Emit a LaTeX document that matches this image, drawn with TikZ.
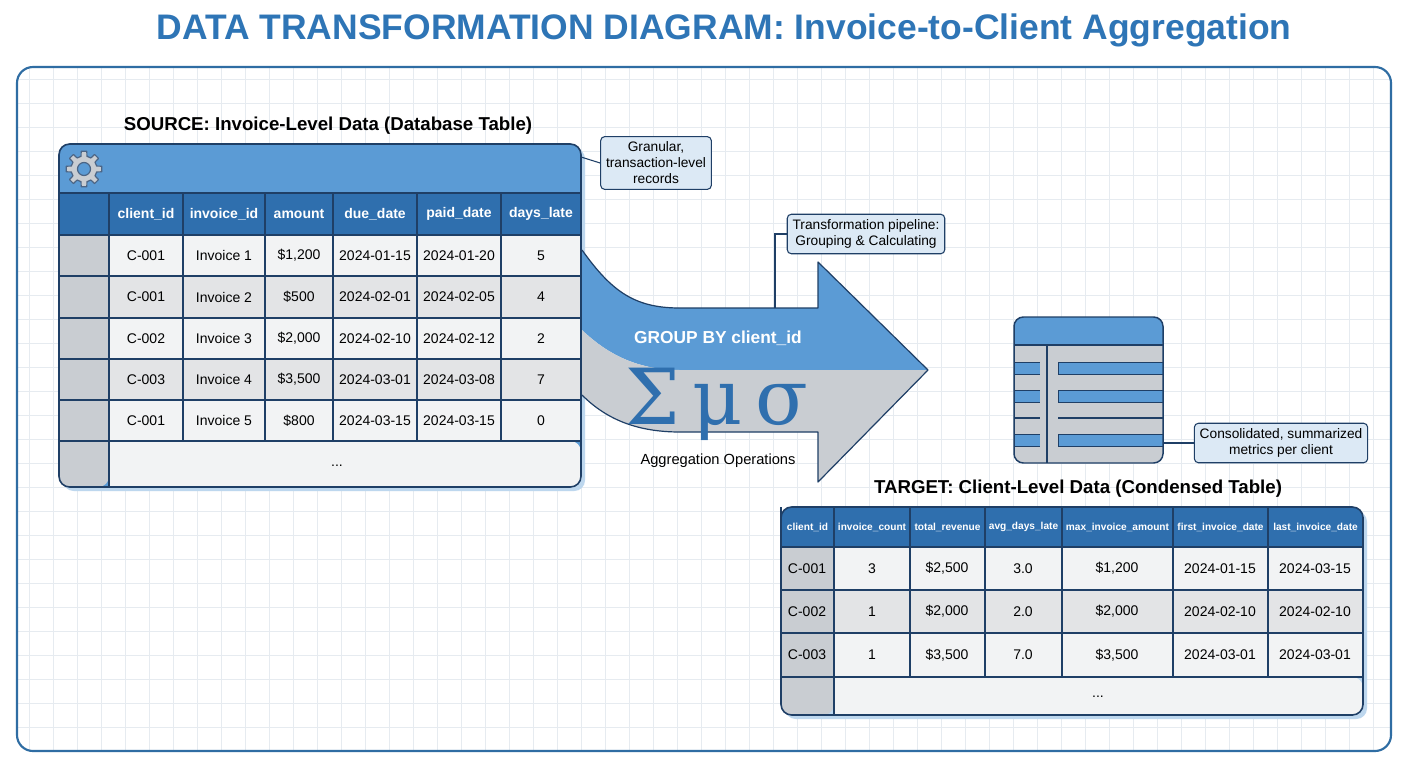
\documentclass[tikz,border=0pt]{standalone}
\usepackage{fontspec}
\setmainfont{Liberation Sans}
\newfontfamily\symfont{DejaVu Serif}
\definecolor{titleblue}{HTML}{2E75B6}
\definecolor{blueL}{HTML}{5B9BD5}
\definecolor{blueD}{HTML}{2F6FAE}
\definecolor{edge}{HTML}{1F3F66}
\definecolor{grayC}{HTML}{C9CDD2}
\definecolor{cellA}{HTML}{F2F3F4}
\definecolor{cellB}{HTML}{E3E4E6}
\definecolor{callfill}{HTML}{DCE9F5}
\definecolor{gridc}{HTML}{E6EBF0}
\definecolor{frame}{HTML}{2F6DA3}
\tikzset{
  cellfont/.style={font=\fontsize{10.5}{12}\selectfont},
  callout/.style={draw=edge,fill=callfill,rounded corners=3pt,line width=0.8pt,align=center,font=\fontsize{10.3}{12}\selectfont,inner sep=4pt},
  lead/.style={draw=edge,line width=0.8pt},
  ttl/.style={font=\bfseries\fontsize{14}{16}\selectfont},
}
\begin{document}
\begin{tikzpicture}[x=0.75pt,y=-0.75pt]
\useasboundingbox (0,0) rectangle (1408,768);
\fill[white] (0,0) rectangle (1408,768);
% title
\node[font=\bfseries\fontsize{26.6}{30}\selectfont,text=titleblue] (title) at (724,30) {DATA TRANSFORMATION DIAGRAM: Invoice-to-Client Aggregation};
% frame + grid
\begin{scope}
\clip[rounded corners=12pt] (17,67) rectangle (1391,751);
\foreach \x in {29,53,...,1391} \draw[gridc,line width=0.6pt] (\x,67) -- (\x,751);
\foreach \y in {79,103,...,751} \draw[gridc,line width=0.6pt] (17,\y) -- (1391,\y);
\end{scope}
\draw[frame,line width=1.6pt,rounded corners=12pt] (17,67) rectangle (1391,751);

% ---------- SOURCE ----------
\node[ttl] (srcttl) at (328,126) {SOURCE: Invoice-Level Data (Database Table)};
\fill[blueL!40,rounded corners=8pt] (63,148) rectangle (585,491);
\fill[blueL,rounded corners=8pt] (59,144) rectangle (581,487);
\fill[blueD] (59,193) rectangle (581,235);
\fill[grayC] (59,235) rectangle (109,479);
\fill[grayC,rounded corners=8pt] (59,441) rectangle (109,487);
\fill[cellA] (109,441) rectangle (573,487);
\fill[cellA,rounded corners=8pt] (109,441) rectangle (581,487);
% gear
\begin{scope}[shift={(84,169)}]
\draw[fill=grayC,draw=edge!80,line width=0.9pt,line join=round]
  (-13:13) \foreach \a in {0,45,...,315}{
    -- ({\a-9}:18) -- ({\a+9}:18) -- ({\a+13}:13) arc[start angle={\a+13},end angle={\a+32},radius=13]
  } -- cycle;
\fill[blueL] (0,0) circle (6.5);
\draw[edge!80,line width=0.9pt] (0,0) circle (6.5);
\end{scope}
% header row
\foreach \t/\xa/\xb [count=\i] in {client\_id/109/183,invoice\_id/183/265,amount/265/333,due\_date/333/417,paid\_date/417/501,days\_late/501/581}{
  \node[font=\bfseries\fontsize{10.5}{12}\selectfont,text=white] (sh\i) at ({(\xa+\xb)/2},214) {\t};
  \draw[edge,line width=0.9pt] (\xa,193) -- (\xa,235);
}
\foreach \ya/\yb/\c/\va/\vb/\vc/\vd/\ve/\vf [count=\r] in {
 {235/276/cellA/C-001/Invoice 1/{\$1,200}/2024-01-15/2024-01-20/5},
 {276/318/cellB/C-001/Invoice 2/{\$500}/2024-02-01/2024-02-05/4},
 {318/359/cellA/C-002/Invoice 3/{\$2,000}/2024-02-10/2024-02-12/2},
 {359/400/cellB/C-003/Invoice 4/{\$3,500}/2024-03-01/2024-03-08/7},
 {400/441/cellA/C-001/Invoice 5/{\$800}/2024-03-15/2024-03-15/0}}{
  \fill[\c] (109,\ya) rectangle (581,\yb);
  \draw[edge,line width=0.9pt] (59,\ya) -- (581,\ya);
  \foreach \x in {109,183,265,333,417,501} \draw[edge,line width=0.9pt] (\x,\ya) -- (\x,\yb);
  \node[cellfont] (s\r a) at (146,{(\ya+\yb)/2}) {\va};
  \node[cellfont] (s\r b) at (224,{(\ya+\yb)/2}) {\vb};
  \node[cellfont] (s\r c) at (299,{(\ya+\yb)/2}) {\vc};
  \node[cellfont] (s\r d) at (375,{(\ya+\yb)/2}) {\vd};
  \node[cellfont] (s\r e) at (459,{(\ya+\yb)/2}) {\ve};
  \node[cellfont] (s\r f) at (541,{(\ya+\yb)/2}) {\vf};
}
\draw[edge,line width=0.9pt] (59,441) -- (581,441) (59,193) -- (581,193) (109,441) -- (109,487);
\node[cellfont] (sdots) at (337,466) {...};
\draw[edge,line width=1.2pt,rounded corners=8pt] (59,144) rectangle (581,487);
\coordinate (srcR) at (581,157);
\node[callout] (c1) at (656,163) {Granular,\\transaction-level\\records};
\draw[lead] (srcR) -- (c1.west);

% ---------- ARROW ----------
\fill[blueL] (582,250) .. controls (612,292) and (635,308) .. (680,308) -- (818,308) -- (818,262) -- (928,370) -- (680,370) .. controls (635,370) and (605,352) .. (582,330) -- cycle;
\fill[grayC] (582,330) .. controls (605,352) and (635,370) .. (680,370) -- (928,370) -- (818,482) -- (818,432) -- (680,432) .. controls (635,432) and (605,418) .. (582,395) -- cycle;
\draw[edge,line width=0.9pt,line join=round] (582,250) .. controls (612,292) and (635,308) .. (680,308) -- (818,308) -- (818,262) -- (928,370) -- (818,482) -- (818,432) -- (680,432) .. controls (635,432) and (605,418) .. (582,395);
\node[font=\bfseries\fontsize{13}{15}\selectfont,text=white] (grp) at (718,338) {GROUP BY client\_id};
\node[font=\symfont\fontsize{58}{60}\selectfont,text=blueD] (sym) at (717,404) {Σ\,μ\,σ};
\node[font=\fontsize{11}{13}\selectfont] (agg) at (718,461) {Aggregation Operations};
\node[callout] (c2) at (866,234) {Transformation pipeline:\\Grouping \& Calculating};
\coordinate (arrTop) at (775,308);
\draw[lead] (arrTop) |- (c2.west);

% ---------- ICON ----------
\fill[grayC,rounded corners=7pt] (1014,317) rectangle (1163,463);
\fill[blueL,rounded corners=7pt] (1014,317) rectangle (1163,350);
\fill[grayC] (1014,345) rectangle (1163,360);
\draw[edge,line width=0.9pt] (1014,345) -- (1163,345) (1047,345) -- (1047,463);
\foreach \y in {368,396,440}{
  \fill[blueL] (1014,{\y-6}) rectangle (1040,{\y+6});
  \fill[blueL] (1058,{\y-6}) rectangle (1163,{\y+6});
  \draw[edge,line width=0.7pt] (1014,{\y-6}) -- (1040,{\y-6}) (1014,{\y+6}) -- (1040,{\y+6}) (1058,{\y-6}) -- (1163,{\y-6}) (1058,{\y+6}) -- (1163,{\y+6}) (1058,{\y-6}) -- (1058,{\y+6});
}
\draw[edge,line width=0.9pt] (1014,418) -- (1040,418) (1058,418) -- (1163,418);
\draw[edge,line width=1.1pt,rounded corners=7pt] (1014,317) rectangle (1163,463);
\coordinate (iconR) at (1163,443);
\node[callout] (c3) at (1281,443) {Consolidated, summarized\\metrics per client};
\draw[lead] (iconR) -- (c3.west);

% ---------- TARGET ----------
\node[ttl] (tgtttl) at (1078,489) {TARGET: Client-Level Data (Condensed Table)};
\fill[blueL!40,rounded corners=8pt] (785,511) rectangle (1367,719);
\fill[blueD,rounded corners=8pt] (781,507) rectangle (1363,547);
\fill[blueD] (781,530) rectangle (1363,547);
\fill[grayC] (781,547) rectangle (834,705);
\fill[grayC,rounded corners=8pt] (781,677) rectangle (834,715);
\fill[cellA] (834,677) rectangle (1355,715);
\fill[cellA,rounded corners=8pt] (834,677) rectangle (1363,715);
\foreach \t/\xa/\xb [count=\i] in {client\_id/781/834,invoice\_count/834/910,total\_revenue/910/985,avg\_days\_late/985/1062,max\_invoice\_amount/1062/1173,first\_invoice\_date/1173/1268,last\_invoice\_date/1268/1363}{
  \node[font=\bfseries\fontsize{7.6}{9}\selectfont,text=white] (th\i) at ({(\xa+\xb)/2},527) {\t};
  \draw[edge,line width=0.9pt] (\xa,507) -- (\xa,677);
}
\foreach \ya/\yb/\c/\va/\vb/\vc/\vd/\ve/\vf/\vg [count=\r] in {
 {547/590/cellA/C-001/3/{\$2,500}/3.0/{\$1,200}/2024-01-15/2024-03-15},
 {590/633/cellB/C-002/1/{\$2,000}/2.0/{\$2,000}/2024-02-10/2024-02-10},
 {633/677/cellA/C-003/1/{\$3,500}/7.0/{\$3,500}/2024-03-01/2024-03-01}}{
  \fill[\c] (834,\ya) rectangle (1363,\yb);
  \draw[edge,line width=0.9pt] (781,\ya) -- (1363,\ya);
  \foreach \x in {834,910,985,1062,1173,1268} \draw[edge,line width=0.9pt] (\x,\ya) -- (\x,\yb);
  \node[cellfont] (t\r a) at (807,{(\ya+\yb)/2}) {\va};
  \node[cellfont] (t\r b) at (872,{(\ya+\yb)/2}) {\vb};
  \node[cellfont] (t\r c) at (947,{(\ya+\yb)/2}) {\vc};
  \node[cellfont] (t\r d) at (1023,{(\ya+\yb)/2}) {\vd};
  \node[cellfont] (t\r e) at (1117,{(\ya+\yb)/2}) {\ve};
  \node[cellfont] (t\r f) at (1220,{(\ya+\yb)/2}) {\vf};
  \node[cellfont] (t\r g) at (1315,{(\ya+\yb)/2}) {\vg};
}
\draw[edge,line width=0.9pt] (781,677) -- (1363,677) (834,677) -- (834,715);
\node[cellfont] (tdots) at (1098,697) {...};
\draw[edge,line width=1.2pt,rounded corners=8pt] (781,507) rectangle (1363,715);
\end{tikzpicture}
\end{document}
